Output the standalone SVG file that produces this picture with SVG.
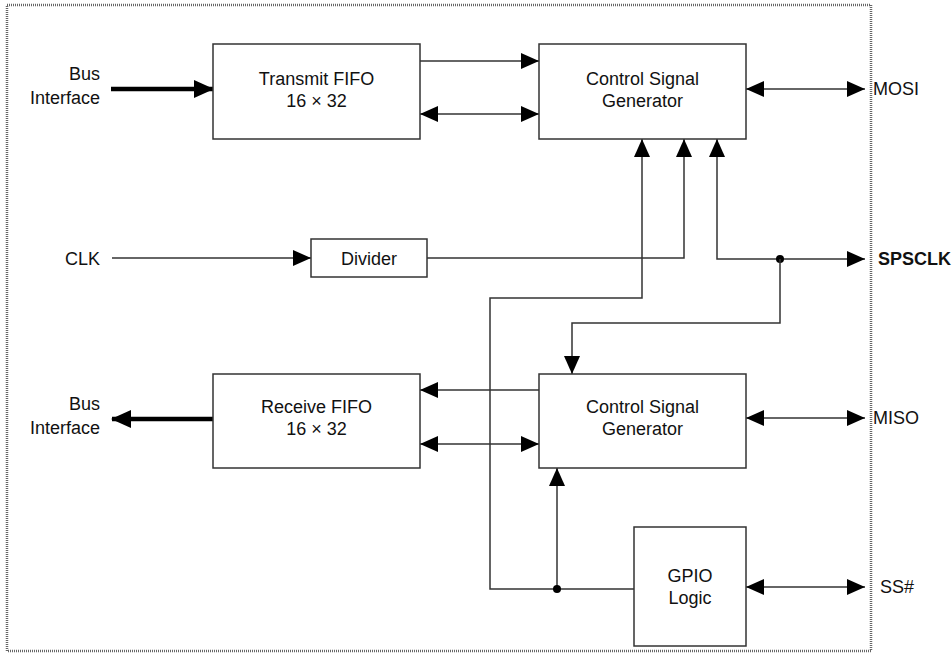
<svg xmlns="http://www.w3.org/2000/svg" width="952" height="653" viewBox="0 0 952 653">
<style>
.box{fill:#fff;stroke:#333;stroke-width:1.5}
.t{font-family:"Liberation Sans",Arial,sans-serif;font-size:18px;fill:#111}
.c{text-anchor:middle}
.r{text-anchor:end}
.ln{fill:none;stroke:#333;stroke-width:1.5}
.thick{fill:none;stroke:#000;stroke-width:4.5}
</style>
<defs>
<marker id="a" markerUnits="userSpaceOnUse" markerWidth="18" markerHeight="16" refX="18" refY="8" orient="auto-start-reverse"><path d="M0,0 L18,8 L0,16 z" fill="#000"/></marker>
<marker id="b" markerUnits="userSpaceOnUse" markerWidth="20" markerHeight="18" refX="19" refY="9" orient="auto-start-reverse"><path d="M0,0 L20,9 L0,18 z" fill="#000"/></marker>
</defs>
<rect x="0" y="0" width="952" height="653" fill="#fff"/>
<rect id="border" x="7" y="5" width="864" height="646" fill="none" stroke="#666" stroke-width="2.5" stroke-dasharray="1 1"/>

<g id="connectors">
<line class="thick" x1="111" y1="89" x2="213" y2="89" marker-end="url(#b)"/>
<line class="ln" x1="420" y1="61" x2="539" y2="61" marker-end="url(#a)"/>
<line class="ln" x1="420" y1="114" x2="539" y2="114" marker-start="url(#a)" marker-end="url(#a)"/>
<line class="ln" x1="746" y1="89" x2="865" y2="89" marker-start="url(#a)" marker-end="url(#a)"/>
<line class="ln" x1="112" y1="258" x2="311" y2="258" marker-end="url(#a)"/>
<polyline class="ln" points="427,258 684,258 684,139" marker-end="url(#a)"/>
<polyline class="ln" points="717,139 717,259 865,259" marker-start="url(#a)" marker-end="url(#a)"/>
<circle cx="780" cy="259" r="4" fill="#000"/>
<polyline class="ln" points="780,259 780,323 572,323 572,374" marker-end="url(#a)"/>
<polyline class="ln" points="634,589 490,589 490,298 642,298 642,139" marker-end="url(#a)"/>
<line class="ln" x1="557" y1="589" x2="557" y2="468" marker-end="url(#a)"/>
<circle cx="557" cy="589" r="4" fill="#000"/>
<line class="ln" x1="539" y1="390" x2="420" y2="390" marker-end="url(#a)"/>
<line class="ln" x1="420" y1="444" x2="539" y2="444" marker-start="url(#a)" marker-end="url(#a)"/>
<line class="thick" x1="213" y1="419" x2="112" y2="419" marker-end="url(#b)"/>
<line class="ln" x1="746" y1="418" x2="865" y2="418" marker-start="url(#a)" marker-end="url(#a)"/>
<line class="ln" x1="746" y1="587" x2="865" y2="587" marker-start="url(#a)" marker-end="url(#a)"/>
</g>

<g id="tx-fifo">
<rect class="box" x="213" y="44" width="207" height="95"/>
<text class="t c" x="316.5" y="85">Transmit FIFO</text>
<text class="t c" x="316.5" y="107">16 × 32</text>
</g>
<g id="ctrl-top">
<rect class="box" x="539" y="44" width="207" height="95"/>
<text class="t c" x="642.5" y="85">Control Signal</text>
<text class="t c" x="642.5" y="107">Generator</text>
</g>
<g id="divider">
<rect class="box" x="311" y="239" width="116" height="38"/>
<text class="t c" x="369" y="265">Divider</text>
</g>
<g id="rx-fifo">
<rect class="box" x="213" y="374" width="207" height="94"/>
<text class="t c" x="316.5" y="413">Receive FIFO</text>
<text class="t c" x="316.5" y="435">16 × 32</text>
</g>
<g id="ctrl-bottom">
<rect class="box" x="539" y="374" width="207" height="94"/>
<text class="t c" x="642.5" y="413">Control Signal</text>
<text class="t c" x="642.5" y="435">Generator</text>
</g>
<g id="gpio">
<rect class="box" x="634" y="527" width="112" height="119"/>
<text class="t c" x="690" y="582">GPIO</text>
<text class="t c" x="690" y="604">Logic</text>
</g>

<g id="labels">
<text class="t r" x="100" y="80">Bus</text>
<text class="t r" x="100" y="104">Interface</text>
<text class="t r" x="100" y="410">Bus</text>
<text class="t r" x="100" y="434">Interface</text>
<text class="t r" x="100" y="265">CLK</text>
<text class="t" x="873" y="95">MOSI</text>
<text class="t" x="878" y="265" font-weight="bold">SPSCLK</text>
<text class="t" x="873" y="424">MISO</text>
<text class="t" x="880" y="593">SS#</text>
</g>
</svg>
